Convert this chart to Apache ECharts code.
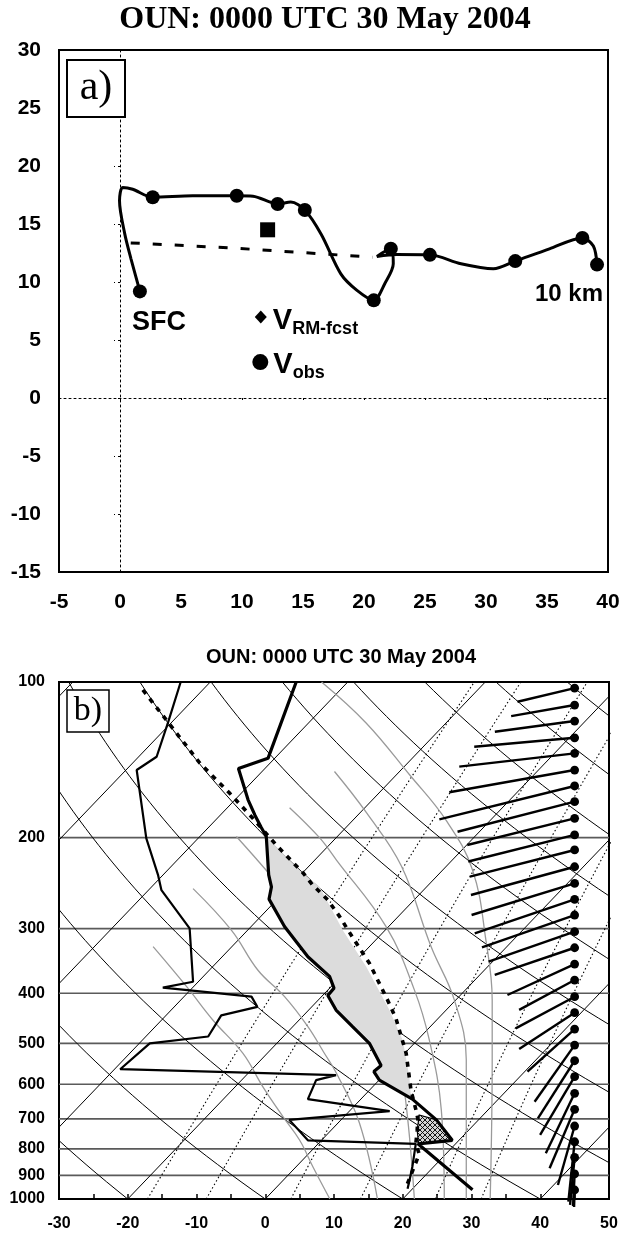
<!DOCTYPE html>
<html>
<head>
<meta charset="utf-8">
<script src="https://cdn.jsdelivr.net/npm/echarts@6.0.0/dist/echarts.min.js"></script>
<style>
html,body{margin:0;padding:0;background:#fff;}
#chart{width:627px;height:1237px;}
</style>
</head>
<body>
<div id="chart"></div>
<script>
// ================= Panel a: hodograph (m/s) =================
const hodoTicksU = [-5, 0, 5, 10, 15, 20, 25, 30, 35, 40];
const hodoTicksV = [-15, -10, -5, 0, 5, 10, 15, 20, 25, 30];
// observed wind path (SFC -> 10 km)
const pathU = [1.63, 0.9, 0.39, -0.04, 0.22, 1.04, 2.68, 5.96, 9.57, 10.9, 12.92, 14.0, 15.15, 16.5, 18.1, 19.4, 20.8, 21.7, 22.4, 22.2, 21.06, 22.7, 25.4, 27.95, 30.6, 32.4, 35.2, 37.9, 38.8, 39.1];
const pathV = [9.19, 12.0, 14.15, 17.0, 18.15, 18.0, 17.3, 17.44, 17.44, 17.4, 16.73, 16.9, 16.21, 14.1, 10.7, 9.3, 8.42, 9.85, 11.57, 12.86, 12.2, 12.37, 12.34, 11.57, 11.14, 11.8, 12.86, 13.8, 13.1, 11.5];
// observation markers along the path
const obsU = [1.63, 2.68, 9.57, 12.92, 15.15, 20.8, 22.2, 25.4, 32.4, 37.9, 39.1];
const obsV = [9.19, 17.3, 17.44, 16.73, 16.21, 8.42, 12.86, 12.34, 11.8, 13.8, 11.5];
// dashed mean-wind line
const meanU = [0.88, 9.08, 20.7];
const meanV = [13.37, 12.94, 12.14];
// storm motion (square)
const stormU = [12.1];
const stormV = [14.5];
// legend glyph positions (diamond, circle)
const legendU = [11.54, 11.5];
const legendV = [6.98, 3.1];

// ================= Panel b: skew-T log-p =================
const pressureTicks = [100, 200, 300, 400, 500, 600, 700, 800, 900, 1000];
const tempTicks = [-30, -20, -10, 0, 10, 20, 30, 40, 50];
const SKEW = 72;                       // isotherm skew, chart units per decade of pressure
const isothermBase = [-100, -80, -60, -40, -20, 0, 20, 40];
const dryAdiabatBase = [-20, 0, 20, 40, 60, 80, 100, 120, 140, 160, 180, 200];
const mixingRatios = [1, 2, 5, 10, 20, 30];   // g/kg
// moist adiabats: [chart x, hPa]
const moist1 = [[-16.31, 325], [-11.46, 388], [-7.6, 451], [-3.24, 523], [-0.34, 607], [2.57, 693], [4.99, 769], [7.0, 870], [9.4, 1000]];
const moist2 = [[-10.5, 251], [-4.93, 302], [-1.06, 361], [2.81, 406], [6.2, 464], [8.62, 523], [10.36, 571], [13.7, 713], [16.32, 1000]];
const moist3 = [[-4.2, 199], [0.93, 238], [7.89, 309], [12.98, 377], [17.33, 451], [19.07, 504], [20.53, 664], [21.69, 1000]];
const moist4 = [[3.54, 175], [7.89, 200], [10.36, 221], [17.62, 298], [21.69, 394], [23.87, 493], [25.61, 673], [26.04, 1000]];
const moist5 = [[10.07, 149], [14.72, 179], [19.8, 227], [24.16, 326], [27.5, 412], [29.24, 538], [29.24, 1000]];
const moist6 = [[8.19, 100], [14.67, 120], [20.96, 151], [26.29, 185], [30.15, 231], [32.1, 316], [33.01, 412], [33.01, 540], [32.72, 1000]];

// environmental temperature (chart x, skewed) and pressure
const tempP = [100, 140.5, 147, 169, 181, 191, 199, 236, 249, 263, 297, 340, 371, 391, 404, 431, 464, 500, 552, 567, 589, 641, 703, 770, 782, 960];
const tempX = [4.5, 0.4, -3.9, -2.5, -1.5, -0.6, 0.15, 0.5, 0.9, 0.55, 2.8, 6.2, 9.35, 10.0, 9.1, 10.3, 12.7, 15.15, 16.85, 15.8, 16.6, 21.4, 24.9, 27.2, 22.2, 30.15];
// dewpoint
const dewP = [100, 119.3, 139.5, 148, 200.6, 236, 252.7, 299.5, 380, 390, 406, 425, 441.5, 485, 500, 561, 576, 589, 641, 676, 703, 770, 782, 866, 918, 955];
const dewX = [-12.3, -14.1, -15.8, -18.7, -17.3, -15.6, -15.1, -11.0, -10.5, -14.9, -2.0, -1.15, -6.4, -8.3, -16.8, -21.1, 10.3, 7.4, 6.2, 18.1, 3.5, 6.2, 21.9, 21.4, 21.0, 20.7];
// lifted parcel
const parcelP = [103.6, 118.4, 143.6, 164, 183.5, 206.7, 234, 247, 264, 284, 305, 350, 412.5, 447, 523, 616, 671, 700, 736, 782, 819, 947];
const parcelX = [-17.8, -14.4, -9.5, -5.2, -1.8, 1.6, 5.5, 6.9, 9.1, 10.8, 12.25, 15.15, 17.8, 19.0, 20.5, 21.2, 21.9, 22.2, 22.1, 21.9, 22.4, 20.5];
// positive area outline (gray)
const capeP = [641, 589, 567, 552, 500, 464, 431, 404, 391, 371, 340, 297, 263, 249, 236, 199, 233, 249, 302, 355, 431, 493, 580, 636];
const capeX = [21.3, 16.6, 15.8, 16.85, 15.15, 12.7, 10.3, 9.1, 10.0, 9.35, 6.2, 2.8, 0.55, 0.9, 0.5, 0.15, 5.24, 7.9, 11.28, 14.67, 18.06, 20.0, 20.96, 21.2];
// negative area outline (hatched)
const cinP = [688, 703, 770, 781, 736];
const cinX = [22.4, 24.9, 27.2, 22.3, 22.1];
// wind profile: level pressure, shaft end (chart x, hPa)
const barbColumnX = 45;
const barbP = [102.8, 110.8, 119, 128.2, 137.4, 148, 158.9, 170.4, 183.5, 197.6, 211.3, 227.7, 245.2, 263.3, 282.3, 304.1, 326.6, 351.2, 377.1, 406.2, 436.2, 469.1, 503.8, 540.2, 580, 624.5, 670.7, 722.5, 775, 830.5, 894.4, 960.7];
const barbEndX = [36.69, 35.77, 33.4, 30.4, 28.22, 26.77, 25.32, 27.97, 29.38, 29.53, 29.77, 29.92, 30.01, 30.47, 31.52, 32.48, 33.38, 35.23, 36.93, 36.42, 36.93, 38.14, 39.18, 39.66, 39.98, 40.81, 41.36, 42.57, 44.09, 44.34, 44.77, 44.92];
const barbEndP = [109.2, 116.4, 124.8, 133.4, 145.8, 163.4, 184.4, 194.8, 206.7, 222.4, 238.0, 258.2, 282.3, 306.3, 326.0, 347.5, 368.7, 403.1, 430.8, 467.6, 512.8, 567.3, 648.4, 698.3, 751.9, 815.7, 872.1, 939.6, 1012, 1027, 1032, 1036];

// ================= build chart =================
const SANS = '"Liberation Sans", Arial, Helvetica, sans-serif';
const SERIF = '"Liberation Serif", "Times New Roman", serif';
const lg = Math.log10;
const pairs = (xs, ps) => xs.map((x, i) => [x, lg(ps[i])]);
const skewX = (T, p) => T + SKEW * lg(1000 / p);
const levels = n => Array.from({length: n + 1}, (_, i) => 1000 * Math.pow(10, -i / n));

function bg(data, lineStyle, extra) {
  return Object.assign({type: 'line', xAxisIndex: 2, yAxisIndex: 2, data, symbol: 'none', showSymbol: false,
    silent: true, lineStyle, z: 1, animation: false}, extra || {});
}
const series = [];
// isobars
pressureTicks.slice(1, -1).forEach(p => series.push(bg([[-30, lg(p)], [50, lg(p)]], {color: '#5a5a5a', width: 1.6})));
// isotherms
isothermBase.forEach(t0 => series.push(bg([[t0, 3], [t0 + SKEW, 2]], {color: '#000', width: 1})));
// dry adiabats
dryAdiabatBase.forEach(t0 => series.push(bg(levels(60).map(p =>
  [skewX((t0 + 273.15) * Math.pow(p / 1000, 0.2857) - 273.15, p), lg(p)]), {color: '#000', width: 1})));
// mixing ratio lines
mixingRatios.forEach(w => series.push(bg(levels(40).map(p => {
  const e = (w / 1000) * p / (0.622 + w / 1000);
  const a = Math.log(e / 6.112);
  return [skewX(243.5 * a / (17.67 - a), p), lg(p)];
}), {color: '#000', width: 1.1, type: [1.5, 2.5]})));
// moist adiabats
[moist1, moist2, moist3, moist4, moist5, moist6].forEach(m =>
  series.push(bg(m.map(d => [d[0], lg(d[1])]), {color: '#9a9a9a', width: 1.3}, {smooth: 0.4})));

// hatch pattern
const hc = document.createElement('canvas');
hc.width = 5; hc.height = 5;
const g = hc.getContext('2d');
g.fillStyle = '#d4d4d4'; g.fillRect(0, 0, 5, 5);
g.strokeStyle = '#000'; g.lineWidth = 0.9;
g.beginPath(); g.moveTo(0, 0); g.lineTo(5, 5); g.moveTo(5, 0); g.lineTo(0, 5); g.stroke();

function poly(xs, ps, style, z) {
  const pts = pairs(xs, ps);
  return {type: 'custom', xAxisIndex: 2, yAxisIndex: 2, silent: true, z, animation: false, data: [[0, 2.5]],
    renderItem: (params, api) => ({type: 'polygon', shape: {points: pts.map(d => api.coord(d))}, style})};
}
series.push(poly(capeX, capeP, {fill: '#dcdcdc'}, 2));
series.push(poly(cinX, cinP, {fill: {image: hc, repeat: 'repeat'}, stroke: '#000', lineWidth: 1.2}, 3));

// profiles
series.push({type: 'line', xAxisIndex: 2, yAxisIndex: 2, data: pairs(dewX, dewP), symbol: 'none', silent: true,
  lineStyle: {color: '#000', width: 2.2}, z: 5, animation: false});
series.push({type: 'line', xAxisIndex: 2, yAxisIndex: 2, data: pairs(tempX, tempP), symbol: 'none', silent: true,
  lineStyle: {color: '#000', width: 3.2}, z: 5, animation: false});
series.push({type: 'line', xAxisIndex: 2, yAxisIndex: 2, data: pairs(parcelX, parcelP), symbol: 'none', silent: true,
  lineStyle: {color: '#000', width: 3.6, type: [5, 6]}, z: 5, animation: false});

// wind shafts
series.push({type: 'custom', xAxisIndex: 2, yAxisIndex: 2, silent: true, z: 6, animation: false,
  data: barbP.map((p, i) => [barbColumnX, lg(p), barbEndX[i], lg(barbEndP[i])]),
  encode: {x: [0, 2], y: [1, 3]},
  renderItem: (params, api) => {
    const a = api.coord([api.value(0), api.value(1)]);
    const b = api.coord([api.value(2), api.value(3)]);
    return {type: 'group', children: [
      {type: 'line', shape: {x1: a[0], y1: a[1], x2: b[0], y2: b[1]}, style: {stroke: '#000', lineWidth: 2.4}},
      {type: 'circle', shape: {cx: a[0], cy: a[1], r: 4.4}, style: {fill: '#000'}}
    ]};
  }});

// ---- panel a series
const bold = (size) => ({fontSize: size, fontWeight: 'bold', fontFamily: SANS, color: '#000'});
const solidBlack = {color: '#000', opacity: 1};
series.push({type: 'line', xAxisIndex: 0, yAxisIndex: 0, data: pathU.map((u, i) => [u, pathV[i]]), symbol: 'none',
  smooth: 0.3, silent: true, lineStyle: {color: '#000', width: 3}, z: 3, animation: false});
series.push({type: 'line', xAxisIndex: 0, yAxisIndex: 0, data: meanU.map((u, i) => [u, meanV[i]]), symbol: 'none',
  silent: true, lineStyle: {color: '#000', width: 3, type: [9, 13]}, z: 3, animation: false});
series.push({type: 'scatter', xAxisIndex: 0, yAxisIndex: 0, silent: true, z: 4, animation: false,
  symbol: 'circle', symbolSize: 14, itemStyle: solidBlack,
  data: obsU.map((u, i) => {
    const item = {value: [u, obsV[i]]};
    if (i === 0) item.label = Object.assign({show: true, formatter: 'SFC', position: 'inside', offset: [19, 31]}, bold(27));
    if (i === obsU.length - 1) item.label = Object.assign({show: true, formatter: '10 km', position: 'inside', offset: [-28, 30]}, bold(24));
    return item;
  })});
series.push({type: 'scatter', xAxisIndex: 0, yAxisIndex: 0, silent: true, z: 4, animation: false,
  symbol: 'rect', symbolSize: 15, itemStyle: solidBlack, data: stormU.map((u, i) => [u, stormV[i]])});
const richSub = {v: bold(29), s: Object.assign(bold(18), {padding: [16, 0, 0, 0]})};
series.push({type: 'scatter', xAxisIndex: 0, yAxisIndex: 0, silent: true, z: 4, animation: false,
  symbol: 'diamond', symbolSize: [12, 13], itemStyle: solidBlack, data: [[legendU[0], legendV[0]]],
  label: {show: true, position: 'right', distance: 6, offset: [0, 4], formatter: '{v|V}{s|RM-fcst}', rich: richSub}});
series.push({type: 'scatter', xAxisIndex: 0, yAxisIndex: 0, silent: true, z: 4, animation: false,
  symbol: 'circle', symbolSize: 16, itemStyle: solidBlack, data: [[legendU[1], legendV[1]]],
  label: {show: true, position: 'right', distance: 5, offset: [0, 3], formatter: '{v|V}{s|obs}', rich: richSub}});

const dotted = {color: '#000', width: 1, type: [2, 3]};
const option = {
  animation: false,
  backgroundColor: '#fff',
  grid: [
    {left: 59, right: 19, top: 50, height: 522, show: true, borderColor: '#000', borderWidth: 2, backgroundColor: 'rgba(0,0,0,0)'},
    {left: 59, right: 18, top: 682, height: 517, show: true, borderColor: '#000', borderWidth: 2, backgroundColor: 'rgba(0,0,0,0)'}
  ],
  xAxis: [
    {gridIndex: 0, type: 'value', min: hodoTicksU[0], max: hodoTicksU[hodoTicksU.length - 1], interval: 5,
      axisLine: {onZero: false, lineStyle: {color: '#000', width: 2}}, axisTick: {show: false}, splitLine: {show: false},
      axisLabel: Object.assign({margin: 20}, bold(21))},
    {gridIndex: 0, type: 'value', position: 'bottom', min: hodoTicksU[0], max: hodoTicksU[hodoTicksU.length - 1], interval: 5,
      axisLine: {onZero: true, onZeroAxisIndex: 0, lineStyle: dotted}, axisTick: {show: true, length: 4, lineStyle: dotted},
      axisLabel: {show: false}, splitLine: {show: false}},
    {gridIndex: 1, type: 'value', min: tempTicks[0], max: tempTicks[tempTicks.length - 1], interval: 10,
      axisLine: {onZero: false, lineStyle: {color: '#000', width: 2}},
      axisTick: {show: true, inside: true, length: 5, lineStyle: {color: '#000', width: 1.5}},
      minorTick: {show: true, splitNumber: 2, length: 5, lineStyle: {color: '#000', width: 1.5}},
      splitLine: {show: false}, axisLabel: Object.assign({margin: 17}, bold(16))}
  ],
  yAxis: [
    {gridIndex: 0, type: 'value', min: hodoTicksV[0], max: hodoTicksV[hodoTicksV.length - 1], interval: 5,
      axisLine: {onZero: false, lineStyle: {color: '#000', width: 2}}, axisTick: {show: false}, splitLine: {show: false},
      axisLabel: Object.assign({margin: 18}, bold(21))},
    {gridIndex: 0, type: 'value', position: 'left', min: hodoTicksV[0], max: hodoTicksV[hodoTicksV.length - 1], interval: 5,
      axisLine: {onZero: true, onZeroAxisIndex: 0, lineStyle: dotted}, axisTick: {show: true, length: 6, lineStyle: dotted},
      axisLabel: {show: false}, splitLine: {show: false}},
    {gridIndex: 1, type: 'value', min: 2, max: 3, inverse: true,
      axisLine: {onZero: false, lineStyle: {color: '#000', width: 2}}, axisTick: {show: false}, splitLine: {show: false},
      axisLabel: Object.assign({margin: 14, customValues: pressureTicks.map(lg),
        formatter: v => String(Math.round(Math.pow(10, v)))}, bold(16))}
  ],
  graphic: {elements: [
    {type: 'text', x: 325, y: 20, z: 100, style: {text: 'OUN: 0000 UTC 30 May 2004', fontSize: 32, fontWeight: 'bold', fontFamily: SERIF, fill: '#000', textAlign: 'center', textVerticalAlign: 'middle'}},
    {type: 'text', x: 341, y: 657, z: 100, style: {text: 'OUN: 0000 UTC 30 May 2004', fontSize: 20, fontWeight: 'bold', fontFamily: SANS, fill: '#000', textAlign: 'center', textVerticalAlign: 'middle'}},
    {type: 'rect', z: 100, shape: {x: 67, y: 60, width: 58, height: 57}, style: {fill: '#fff', stroke: '#000', lineWidth: 2}},
    {type: 'text', x: 96, y: 88, z: 101, style: {text: 'a)', fontSize: 42, fontFamily: SERIF, fill: '#000', textAlign: 'center', textVerticalAlign: 'middle'}},
    {type: 'rect', z: 100, shape: {x: 67, y: 690, width: 42, height: 42}, style: {fill: '#fff', stroke: '#000', lineWidth: 1.5}},
    {type: 'text', x: 88, y: 711, z: 101, style: {text: 'b)', fontSize: 34, fontFamily: SERIF, fill: '#000', textAlign: 'center', textVerticalAlign: 'middle'}}
  ]},
  series
};
const chart = echarts.init(document.getElementById('chart'));
chart.setOption(option);
</script>
</body>
</html>
